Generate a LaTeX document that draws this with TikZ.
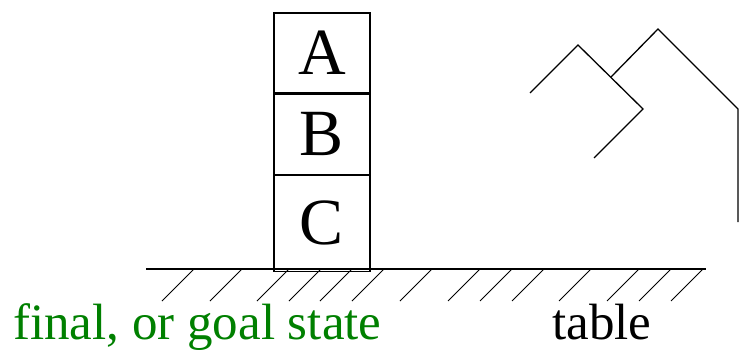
\documentclass[tikz,border=0pt]{standalone}
\usepackage{fontspec}
\setmainfont{Liberation Serif}
\usepackage{xcolor}
\definecolor{goal}{HTML}{008000}
\usetikzlibrary{positioning}
\tikzset{
  block_box/.style={draw=black,line width=1.2pt,minimum width=96pt,inner sep=0pt,
    font=\fontsize{66}{66}\selectfont,align=center},
  label_txt/.style={inner sep=0pt,anchor=base west,font=\fontsize{51}{51}\selectfont},
  ground/.style={draw=black,line width=1.2pt},
  hatch/.style={draw=black,line width=1pt},
  roof/.style={draw=black,line width=1.3pt,line join=miter},
}
\begin{document}
\begin{tikzpicture}[x=1pt,y=-1pt]
    \useasboundingbox (0,0) rectangle (748,351);
    \node[block_box,minimum height=80pt] (blkA) at (322,53) {A};
    \node[block_box,minimum height=80pt,below=0pt of blkA] (blkB) {B};
    \node[block_box,minimum height=96pt,below=0pt of blkB] (blkC) {C};

    \draw[ground] (146,269) -- (706,269);
    \foreach \x in {194,242,289,321,352,384,432,480,512,544,591,639,671,703}
      \draw[hatch] (\x,269) -- ++(-32,32);

    \draw[roof] (530,93) -- (578,45) -- (643,109) -- (594,158);
    \draw[roof] (611,77) -- (658,29) -- (738,109) -- (738,222);

    \node[label_txt,text=goal] (goaltxt) at (13,339) {final, or goal state};
    \node[label_txt] (tabletxt) at (552,339) {table};
\end{tikzpicture}
\end{document}
